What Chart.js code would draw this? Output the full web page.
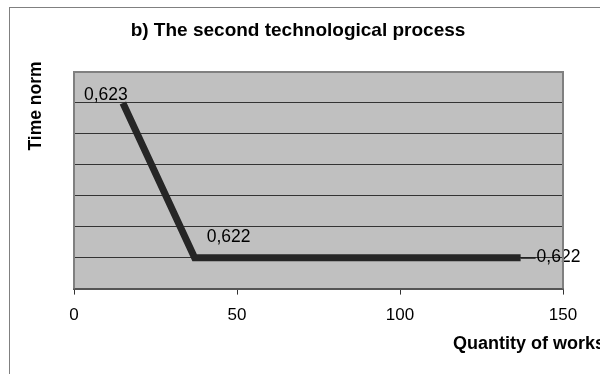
<!DOCTYPE html>
<html>
<head>
<meta charset="utf-8">
<script src="https://cdn.jsdelivr.net/npm/chart.js@4/dist/chart.umd.min.js"></script>
<style>
  html, body { margin: 0; padding: 0; background: #fff; }
  #wrap { width: 600px; height: 374px; position: relative; }
</style>
</head>
<body>
<div id="wrap"><canvas id="grafica"></canvas></div>
<script>
// datos
var cantidadTrabajos = [15, 37, 137];
var normaTiempo = [0.6227, 0.6222, 0.6222];
var etiquetasPuntos = ['0,623', '0,622', '0,622'];
var ticksX = [0, 50, 100, 150];

var tituloGrafica = 'b) The second technological process';
var tituloY = 'Time norm';
var tituloX = 'Quantity of works';

// fondo gris y borde del area de trazado
var fondoArea = {
  id: 'fondoArea',
  beforeDraw: function(chart){
    var ctx = chart.ctx, a = chart.chartArea;
    ctx.save();
    // marco exterior
    ctx.strokeStyle = '#808080';
    ctx.lineWidth = 1;
    ctx.strokeRect(9.5, 7.5, 700, 500);
    ctx.fillStyle = '#C0C0C0';
    ctx.fillRect(a.left, a.top, a.right - a.left, a.bottom - a.top);
    ctx.restore();
  },
  afterDraw: function(chart){
    var ctx = chart.ctx, a = chart.chartArea;
    ctx.save();
    ctx.strokeStyle = '#808080';
    ctx.lineWidth = 2;
    ctx.beginPath();
    ctx.moveTo(a.left, a.bottom);
    ctx.lineTo(a.left, a.top);
    ctx.lineTo(a.right, a.top);
    ctx.lineTo(a.right, a.bottom);
    ctx.stroke();

    // titulos
    ctx.fillStyle = '#000';
    ctx.font = 'bold 19px "Liberation Sans", Arial, sans-serif';
    ctx.textAlign = 'center';
    ctx.textBaseline = 'middle';
    ctx.fillText(tituloGrafica, 298, 31);

    ctx.font = 'bold 18px "Liberation Sans", Arial, sans-serif';
    ctx.textAlign = 'left';
    ctx.fillText(tituloX, 453, 344);

    ctx.translate(36, 106);
    ctx.rotate(-Math.PI / 2);
    ctx.textAlign = 'center';
    ctx.font = 'bold 17.5px "Liberation Sans", Arial, sans-serif';
    ctx.fillText(tituloY, 0, 0);
    ctx.restore();
  }
};

// etiquetas de los puntos
var etiquetas = {
  id: 'etiquetas',
  afterDatasetsDraw: function(chart){
    var ctx = chart.ctx;
    var puntos = chart.getDatasetMeta(0).data;
    ctx.save();
    ctx.fillStyle = '#000';
    ctx.font = '17.5px "Liberation Sans", Arial, sans-serif';
    ctx.textBaseline = 'middle';
    ctx.textAlign = 'center';

    var p0 = puntos[0], p1 = puntos[1], p2 = puntos[2];
    ctx.fillText(etiquetasPuntos[0], p0.x - 17, p0.y - 8);
    ctx.fillText(etiquetasPuntos[1], p1.x + 34, p1.y - 20);

    // linea guia hacia la ultima etiqueta
    ctx.strokeStyle = '#000';
    ctx.lineWidth = 1;
    ctx.beginPath();
    ctx.moveTo(p2.x, p2.y + 0.5);
    ctx.lineTo(p2.x + 15, p2.y + 0.5);
    ctx.stroke();
    ctx.textAlign = 'left';
    ctx.fillText(etiquetasPuntos[2], p2.x + 16, p2.y);
    ctx.restore();
  }
};

window.onload = function(){
  var puntos = [];
  for (var i = 0; i < cantidadTrabajos.length; i++) {
    puntos.push({x: cantidadTrabajos[i], y: normaTiempo[i]});
  }

  var ctxGrafica = document.getElementById('grafica').getContext('2d');
  var miGrafica = new Chart(ctxGrafica, {
    type: 'line',
    data: {
      datasets: [{
        label: tituloY,
        data: puntos,
        borderColor: '#262626',
        borderWidth: 7,
        pointRadius: 0,
        tension: 0,
        borderCapStyle: 'butt',
        borderJoinStyle: 'miter'
      }]
    },
    options: {
      responsive: true,
      maintainAspectRatio: false,
      animation: false,
      layout: { padding: { left: 74, right: 37, top: 72, bottom: 37 } },
      plugins: {
        legend: { display: false },
        title: { display: false },
        tooltip: { enabled: false }
      },
      scales: {
        x: {
          type: 'linear',
          min: 0,
          max: 150,
          afterBuildTicks: function(eje){
            eje.ticks = ticksX.map(function(v){ return {value: v}; });
          },
          grid: {
            display: true,
            drawOnChartArea: false,
            drawTicks: true,
            tickLength: 6,
            color: '#333'
          },
          border: { display: true, color: '#555', width: 2 },
          ticks: {
            color: '#000',
            padding: 11,
            maxRotation: 0,
            font: { family: '"Liberation Sans", Arial, sans-serif', size: 17 }
          }
        },
        y: {
          type: 'linear',
          min: 0.6221,
          max: 0.6228,
          ticks: { display: false, stepSize: 0.0001 },
          border: { display: false },
          grid: {
            drawTicks: false,
            color: function(c){
              if (c.index === 0 || c.index === 7) return 'rgba(0,0,0,0)';
              return '#333';
            }
          }
        }
      }
    },
    plugins: [fondoArea, etiquetas]
  });
};
</script>
</body>
</html>
